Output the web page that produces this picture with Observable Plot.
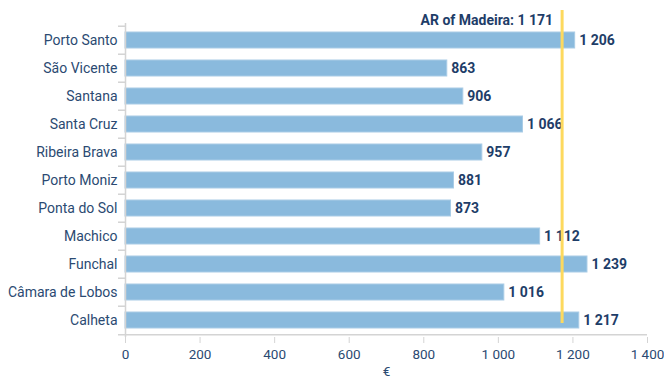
<!DOCTYPE html>
<html>
<head>
<meta charset="utf-8">
<script src="https://cdn.jsdelivr.net/npm/d3@7"></script>
<script src="https://cdn.jsdelivr.net/npm/@observablehq/plot@0.6"></script>
<style>
  html, body { margin: 0; padding: 0; background: #fff; }
  #chart { width: 664px; height: 380px; }
</style>
</head>
<body>
<div id="chart"></div>
<script>
const municipalities = ["Porto Santo", "São Vicente", "Santana", "Santa Cruz", "Ribeira Brava", "Porto Moniz", "Ponta do Sol", "Machico", "Funchal", "Câmara de Lobos", "Calheta"];
const values = [1206, 863, 906, 1066, 957, 881, 873, 1112, 1239, 1016, 1217];
const regionLabel = "AR of Madeira";
const regionValue = 1171;
const xTicks = [0, 200, 400, 600, 800, 1000, 1200, 1400];
const axisTitle = "€";

const data = municipalities.map((name, i) => ({name, value: values[i]}));
const fmt = d3.formatLocale({decimal: ",", thousands: " ", grouping: [3], currency: ["", " €"]}).format(",d");

const W = 664, H = 380, mTop = 23, mBottom = 43, mLeft = 125, mRight = 17;
const step = (H - mTop - mBottom) / municipalities.length;
const gray = "#d4d4d4";
const labelColor = "#2b4a72";
const valueColor = "#1e3d68";

const chart = Plot.plot({
  width: W,
  height: H,
  marginTop: mTop,
  marginBottom: mBottom,
  marginLeft: mLeft,
  marginRight: mRight,
  style: {fontFamily: "Roboto, sans-serif", fontSize: "14px", color: labelColor, background: "#fff"},
  x: {domain: [0, 1400]},
  y: {domain: municipalities, paddingInner: 0.44, paddingOuter: 0.22},
  marks: [
    Plot.barX(data, {y: "name", x: "value", fill: "#8abadd", stroke: "#a9cce6", strokeWidth: 1}),
    Plot.ruleX([0], {stroke: gray, strokeWidth: 1.5}),
    Plot.ruleY(municipalities, {y: d => d, x1: 0, x2: 0, insetLeft: -7, dy: -step / 2, stroke: gray, strokeWidth: 1.5}),
    Plot.ruleY([municipalities[municipalities.length - 1]], {y: d => d, x1: 0, x2: 1400, insetLeft: -7, dy: step / 2, stroke: gray, strokeWidth: 1.5}),
    Plot.axisY({tickSize: 0, tickPadding: 8, label: null, fill: labelColor, fontSize: 14}),
    Plot.axisX({ticks: xTicks, tickFormat: fmt, tickSize: 6, tickPadding: 6, stroke: gray, fill: labelColor, fontSize: 13.5,
      label: axisTitle, labelAnchor: "center", labelArrow: "none", labelOffset: 38}),
    Plot.text(data, {y: "name", x: "value", text: d => fmt(d.value), textAnchor: "start", dx: 4, fill: valueColor, fontWeight: "bold", fontSize: 14}),
    Plot.ruleX([regionValue], {stroke: "#fdd95e", strokeWidth: 3, insetTop: -13, insetBottom: 14}),
    Plot.text([regionValue], {x: d => d, frameAnchor: "top", dy: -8, dx: -9, textAnchor: "end", text: d => `${regionLabel}: ${fmt(d)}`, fill: valueColor, fontWeight: "bold", fontSize: 14})
  ]
});
document.getElementById("chart").appendChild(chart);
</script>
</body>
</html>
